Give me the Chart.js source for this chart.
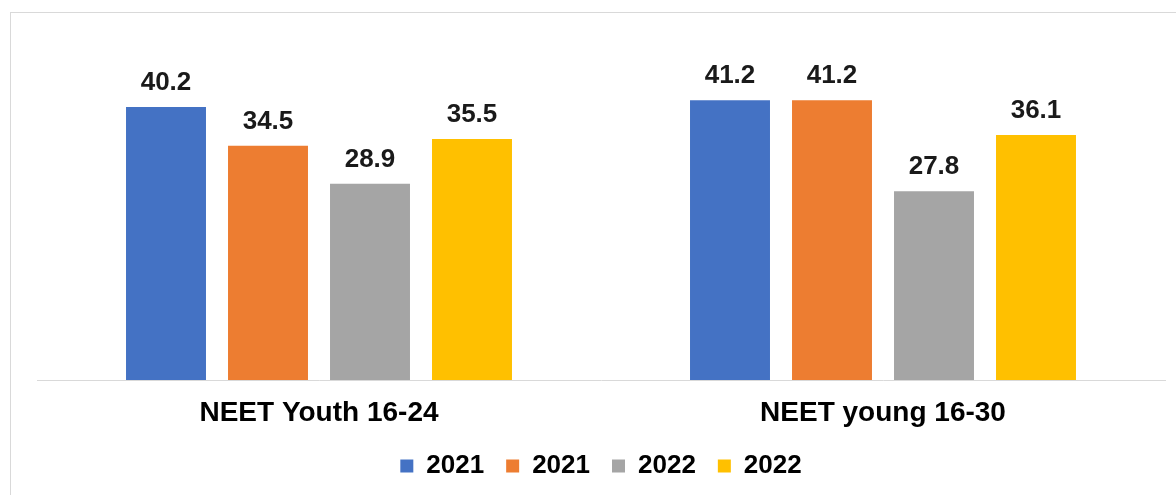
<!DOCTYPE html>
<html lang="en">
<head>
    <meta charset="UTF-8">
    <title>NEET chart</title>
    <style>
        body { margin: 0; background: #fff; overflow: hidden; }
        .frame { position: absolute; left: 10px; top: 12px; width: 1200px; height: 520px;
                 border-top: 1px solid #d9d9d9; border-left: 1px solid #d9d9d9; }
        #myChart { position: absolute; left: 0; top: 0; }
    </style>
</head>
<body>
    <div class="frame"></div>
    <canvas id="myChart" width="1176" height="495"></canvas>

    <script src="https://cdn.jsdelivr.net/npm/chart.js@4.4.1/dist/chart.umd.min.js"></script>
    <script>
        const categories = ['NEET Youth 16-24', 'NEET young 16-30'];
        const seriesLabels = ['2021', '2021', '2022', '2022'];
        const series1 = [40.2, 41.2];
        const series2 = [34.5, 41.2];
        const series3 = [28.9, 27.8];
        const series4 = [35.5, 36.1];
        const colors = ['#4472C4', '#ED7D31', '#A5A5A5', '#FFC000'];

        const allSeries = [series1, series2, series3, series4];

        // value labels above each bar
        const barValues = {
            id: 'barValues',
            afterDatasetsDraw(chart) {
                const ctx = chart.ctx;
                ctx.save();
                ctx.font = 'bold 26px "Liberation Sans", Arial, sans-serif';
                ctx.fillStyle = '#1a1a1a';
                ctx.textAlign = 'center';
                ctx.textBaseline = 'alphabetic';
                chart.data.datasets.forEach(function (ds, i) {
                    chart.getDatasetMeta(i).data.forEach(function (bar, j) {
                        ctx.fillText(ds.data[j].toFixed(1), bar.x, bar.y - 17);
                    });
                });
                ctx.restore();
            }
        };

        const ctx1 = document.getElementById('myChart').getContext('2d');
        const myChart = new Chart(ctx1, {
            type: 'bar',
            data: {
                labels: categories,
                datasets: allSeries.map(function (vals, i) {
                    return {
                        label: seriesLabels[i],
                        data: vals,
                        backgroundColor: colors[i],
                        borderWidth: 0,
                        barPercentage: 0.784,
                        categoryPercentage: 0.7234
                    };
                })
            },
            options: {
                responsive: false,
                devicePixelRatio: 1,
                animation: false,
                layout: {
                    padding: { left: 37, right: 11, top: 40.5, bottom: 6 }
                },
                scales: {
                    x: {
                        grid: { display: false, drawTicks: false },
                        border: { display: true, color: '#d9d9d9', width: 1 },
                        ticks: {
                            color: '#000',
                            padding: 16,
                            font: { family: '"Liberation Sans", Arial, sans-serif', size: 28, weight: 'bold' }
                        },
                        afterFit: function (scale) { scale.height = 51; }
                    },
                    y: {
                        display: false,
                        min: 0,
                        max: 50
                    }
                },
                plugins: {
                    legend: {
                        position: 'bottom',
                        labels: {
                            boxWidth: 13,
                            boxHeight: 13,
                            padding: 22,
                            color: '#000',
                            font: { family: '"Liberation Sans", Arial, sans-serif', size: 26, weight: 'bold' }
                        }
                    },
                    tooltip: { enabled: false }
                }
            },
            plugins: [barValues]
        });
    </script>
</body>
</html>
